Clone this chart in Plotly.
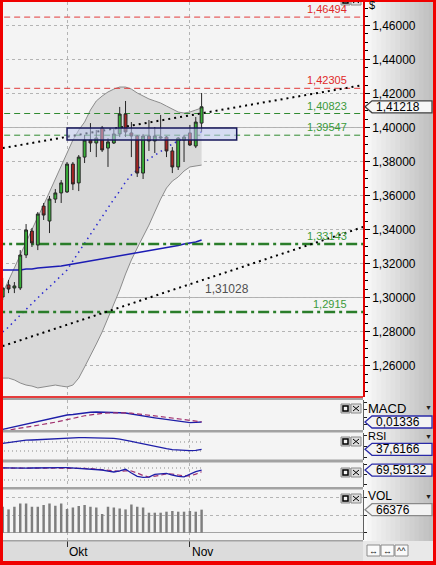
import plotly.graph_objects as go

W, H = 436, 565
FONT = "Liberation Sans, Arial, sans-serif"

# ---- data ----
dates = ["2010-09-16", "2010-09-17", "2010-09-20", "2010-09-21", "2010-09-22",
         "2010-09-23", "2010-09-24", "2010-09-27", "2010-09-28", "2010-09-29",
         "2010-09-30", "2010-10-01", "2010-10-04", "2010-10-05", "2010-10-06",
         "2010-10-07", "2010-10-08", "2010-10-11", "2010-10-12", "2010-10-13",
         "2010-10-14", "2010-10-15", "2010-10-18", "2010-10-19", "2010-10-20",
         "2010-10-21", "2010-10-22", "2010-10-25", "2010-10-26", "2010-10-27",
         "2010-10-28", "2010-10-29", "2010-11-01", "2010-11-02", "2010-11-03"]
month_ticks = {"2010-10-01": "Okt", "2010-11-01": "Nov"}

opens = [1.3003, 1.3074, 1.3056, 1.3056, 1.3250, 1.3391, 1.3309, 1.3538, 1.3450, 1.3579,
         1.3615, 1.3621, 1.3785, 1.3674, 1.3826, 1.3926, 1.3909, 1.3997, 1.3879, 1.3909,
         1.3962, 1.4079, 1.3968, 1.3950, 1.3732, 1.3950, 1.3921, 1.3938, 1.3944, 1.3862,
         1.3768, 1.3926, 1.3968, 1.3891, 1.4026]
highs = [1.3115, 1.3103, 1.3091, 1.3279, 1.3432, 1.3409, 1.3503, 1.3556, 1.3597, 1.3638,
         1.3691, 1.3797, 1.3797, 1.3838, 1.3956, 1.4026, 1.3985, 1.4009, 1.3938, 1.3991,
         1.4121, 1.4156, 1.4032, 1.3956, 1.3962, 1.4044, 1.4003, 1.4074, 1.3950, 1.3885,
         1.3944, 1.3956, 1.4015, 1.4062, 1.4203]
lows = [1.2985, 1.3026, 1.3026, 1.3044, 1.3232, 1.3297, 1.3279, 1.3456, 1.3379, 1.3556,
        1.3556, 1.3615, 1.3632, 1.3626, 1.3791, 1.3856, 1.3826, 1.3856, 1.3768, 1.3903,
        1.3944, 1.3944, 1.3826, 1.3709, 1.3697, 1.3862, 1.3850, 1.3932, 1.3826, 1.3732,
        1.3750, 1.3797, 1.3891, 1.3879, 1.3974]
closes = [1.3056, 1.3050, 1.3068, 1.3250, 1.3397, 1.3321, 1.3491, 1.3485, 1.3579, 1.3615,
          1.3674, 1.3785, 1.3668, 1.3826, 1.3926, 1.3909, 1.3938, 1.3868, 1.3915, 1.3962,
          1.4079, 1.3974, 1.3950, 1.3732, 1.3950, 1.3921, 1.3950, 1.3944, 1.3862, 1.3768,
          1.3938, 1.3944, 1.3897, 1.4032, 1.41218]

bb_upper = [1.3026, 1.3097, 1.3174, 1.3250, 1.3326, 1.3403, 1.3474, 1.3544, 1.3621, 1.3697,
            1.3774, 1.3850, 1.3926, 1.3985, 1.4032, 1.4103, 1.4156, 1.4185, 1.4209, 1.4226,
            1.4238, 1.4238, 1.4226, 1.4203, 1.4185, 1.4168, 1.4156, 1.4144, 1.4126, 1.4109,
            1.4091, 1.4085, 1.4091, 1.4103, 1.4115]
bb_lower = [1.2526, 1.2526, 1.2515, 1.2497, 1.2485, 1.2479, 1.2468, 1.2474, 1.2479, 1.2485,
            1.2479, 1.2474, 1.2485, 1.2526, 1.2591, 1.2656, 1.2726, 1.2797, 1.2879, 1.2962,
            1.3044, 1.3138, 1.3221, 1.3291, 1.3356, 1.3426, 1.3503, 1.3579, 1.3644, 1.3685,
            1.3709, 1.3744, 1.3768, 1.3774, 1.3779]
bb_mid = [1.2797, 1.2826, 1.2862, 1.2897, 1.2926, 1.2962, 1.2997, 1.3032, 1.3062, 1.3097,
          1.3126, 1.3162, 1.3215, 1.3268, 1.3315, 1.3368, 1.3421, 1.3474, 1.3526, 1.3579,
          1.3626, 1.3679, 1.3721, 1.3756, 1.3785, 1.3815, 1.3838, 1.3862, 1.3885, 1.3903,
          1.3921, 1.3938, 1.3950, 1.3962, 1.3974]
ma_long = [1.3162, 1.3162, 1.3162, 1.3162, 1.3168, 1.3168, 1.3174, 1.3176, 1.3179, 1.3182,
           1.3185, 1.3191, 1.3197, 1.3203, 1.3209, 1.3215, 1.3221, 1.3226, 1.3232, 1.3238,
           1.3244, 1.3250, 1.3256, 1.3262, 1.3268, 1.3274, 1.3279, 1.3285, 1.3291, 1.3297,
           1.3306, 1.3315, 1.3321, 1.3326, 1.3338]

levels = [1.46494, 1.42305, 1.40823, 1.39547, 1.33143, 1.2915]
solid_grid = [1.30, 1.40]
trend_hi_x, trend_hi_y = [-1, 62], [1.3873, 1.4252]
trend_lo_x, trend_lo_y = [-1, 62], [1.2703, 1.3419]
trend_lo_last = 1.31028
zone_bars = [11, 40]
zone_prices = [1.3926, 1.3997]

macd = [0.0036, 0.0054, 0.0071, 0.0089, 0.0106, 0.0124, 0.0141, 0.0158, 0.0175, 0.0193,
        0.0210, 0.0227, 0.0234, 0.0247, 0.0257, 0.0264, 0.0267, 0.0267, 0.0264, 0.0261,
        0.0257, 0.0254, 0.0240, 0.0222, 0.0209, 0.0200, 0.0190, 0.0178, 0.0166, 0.0152,
        0.0142, 0.0132, 0.0124, 0.0128, 0.01336]
macd_signal = [0.0012, 0.0024, 0.0036, 0.0048, 0.0060, 0.0071, 0.0086, 0.0101, 0.0116, 0.0131,
               0.0146, 0.0160, 0.0180, 0.0199, 0.0217, 0.0231, 0.0241, 0.0249, 0.0254, 0.0257,
               0.0258, 0.0255, 0.0251, 0.0244, 0.0236, 0.0226, 0.0216, 0.0206, 0.0195, 0.0184,
               0.0173, 0.0163, 0.0153, 0.0143, 0.0136]
rsi = [64.2, 67.9, 71.5, 75.2, 78.0, 78.9, 80.6, 82.3, 84.0, 85.7,
       87.4, 89.1, 89.1, 89.3, 89.3, 89.1, 89.1, 89.1, 88.5, 86.0,
       82.3, 78.9, 73.0, 67.0, 61.1, 55.8, 50.4, 45.1, 40.6, 36.5,
       34.4, 32.5, 31.3, 33.0, 37.6166]
rsi_levels = [70, 30]
stoch_k = [81, 80, 79, 78.5, 79, 80, 81, 81.5, 81.5, 82,
           82, 81.5, 80, 78, 76.5, 75, 72, 70, 64, 60,
           66, 73.5, 55, 38, 33.5, 34, 48, 52, 53.5, 45,
           38, 36, 50, 62, 69.59132]
stoch_d = [80, 80, 80, 79.5, 79, 79, 80, 80.5, 81, 81.5,
           81.5, 81.5, 81, 80, 78, 76.5, 74.5, 72, 68, 65,
           63, 66, 65, 55, 42, 35, 38, 44, 51, 50,
           45, 40, 41, 49, 61.58422]
stoch_levels = [80, 20]
volumes = [74900, 67100, 74900, 84400, 84400, 74900, 74900, 79800, 84400, 77800,
           84400, 68300, 72900, 76900, 79800, 74900, 72900, 53900, 74900, 72900,
           70000, 67100, 81500, 74900, 72900, 57600, 57600, 57600, 60500, 62500,
           60500, 60500, 62500, 60500, 66376]

# ---- styles / geometry ----
level_colors = ["#e23a3a", "#e23a3a", "#2f8a2f", "#2f8a2f", "#2a7d2a", "#2a7d2a"]
label_colors = ["#e02828", "#e02828", "#3a9a3a", "#3a9a3a", "#3a9a3a", "#3a9a3a"]
level_dash = ["6px,4px"] * 4 + ["11px,4px,3px,4px"] * 2
level_width = [1, 1, 1, 1, 2.5, 2.5]

X_RANGE = [-0.46, 61.59]
PANELS = {  # pixel top, pixel bottom, value range
    "price": (2, 397, [1.24147, 1.47382]),
    "macd": (400, 430, [0.00266, 0.04277]),
    "rsi": (432.5, 459.5, [-7.8, 112.2]),
    "stoch": (462.5, 487, [-15, 107.5]),
    "vol": (489.5, 540, [-21000, 124400]),
}
xi = list(range(len(dates)))
tick_idx = [dates.index(d) for d in month_ticks]


def X(p):
    return p / W


def Y(p):
    return 1 - p / H


def to_px(panel, v):
    top, bottom, rng = PANELS[panel]
    return bottom - (v - rng[0]) / (rng[1] - rng[0]) * (bottom - top)


def comma(v, fmt):
    return format(v, fmt).replace(".", ",")


fig = go.Figure()

# price panel (base layer)
fig.add_trace(go.Scatter(x=xi, y=bb_lower, mode="lines", line=dict(color="#8c8c8c", width=1)))
fig.add_trace(go.Scatter(x=xi, y=bb_upper, mode="lines", line=dict(color="#8c8c8c", width=1),
                         fill="tonexty", fillcolor="#d9d9d9"))
fig.add_trace(go.Scatter(x=xi, y=ma_long, mode="lines", line=dict(color="#1c1cb4", width=1.5)))
fig.add_trace(go.Scatter(x=xi, y=bb_mid, mode="lines",
                         line=dict(color="#2a2ad0", width=1.5, dash="1.5px,4px")))
for lv, c, d, w in zip(levels, level_colors, level_dash, level_width):
    fig.add_trace(go.Scatter(x=[X_RANGE[0] - 1, X_RANGE[1] + 1], y=[lv, lv], mode="lines",
                             line=dict(color=c, width=w, dash=d)))
fig.add_trace(go.Scatter(x=trend_hi_x, y=trend_hi_y, mode="lines",
                         line=dict(color="#000000", width=2, dash="2px,4px")))
fig.add_trace(go.Scatter(x=trend_lo_x, y=trend_lo_y, mode="lines",
                         line=dict(color="#000000", width=2, dash="2px,4px")))

# candles on an overlay axis so they sit above the band fill
fig.add_trace(go.Candlestick(
    x=xi, open=opens, high=highs, low=lows, close=closes, yaxis="y6", whiskerwidth=0,
    increasing=dict(fillcolor="#38b038", line=dict(color="#262626", width=1)),
    decreasing=dict(fillcolor="#a82424", line=dict(color="#262626", width=1)),
))

# MACD
fig.add_trace(go.Scatter(x=xi, y=macd, xaxis="x2", yaxis="y2", mode="lines",
                         line=dict(color="#1e1ea8", width=1.3)))
fig.add_trace(go.Scatter(x=xi, y=macd_signal, xaxis="x2", yaxis="y2", mode="lines",
                         line=dict(color="#a0306e", width=1.2, dash="5px,3px")))
# RSI
for lv in rsi_levels:
    fig.add_trace(go.Scatter(x=[X_RANGE[0], xi[-1]], y=[lv, lv], xaxis="x3", yaxis="y3",
                             mode="lines", line=dict(color="#8a8a8a", width=1, dash="1px,3px")))
fig.add_trace(go.Scatter(x=xi, y=rsi, xaxis="x3", yaxis="y3", mode="lines",
                         line=dict(color="#1e1ea8", width=1.3)))
# Stochastic
for lv in stoch_levels:
    fig.add_trace(go.Scatter(x=[X_RANGE[0], xi[-1]], y=[lv, lv], xaxis="x4", yaxis="y4",
                             mode="lines", line=dict(color="#8a8a8a", width=1, dash="1px,3px")))
fig.add_trace(go.Scatter(x=xi, y=stoch_d, xaxis="x4", yaxis="y4", mode="lines",
                         line=dict(color="#a0306e", width=1.2, dash="5px,3px")))
fig.add_trace(go.Scatter(x=xi, y=stoch_k, xaxis="x4", yaxis="y4", mode="lines",
                         line=dict(color="#1e1ea8", width=1.3)))
# Volume
fig.add_trace(go.Bar(x=xi, y=volumes, xaxis="x5", yaxis="y5", width=0.42,
                     marker=dict(color="#7e7e7e", line=dict(width=0))))

# ---- axes ----
xcommon = dict(range=X_RANGE, domain=[0, X(363)], showgrid=True, gridcolor="#b4b4b4",
               griddash="dot", tickvals=tick_idx, showticklabels=False, zeroline=False,
               showline=False, fixedrange=True, automargin=False)
ycommon = dict(side="right", showticklabels=False, zeroline=False, showline=True,
               linecolor="#606060", linewidth=1, ticks="outside", ticklen=3,
               tickcolor="#202020", fixedrange=True, automargin=False)


def dom(name):
    top, bottom, _ = PANELS[name]
    return [Y(bottom), Y(top)]


layout_axes = dict(
    xaxis=dict(xcommon, anchor="y", rangeslider=dict(visible=False)),
    xaxis2=dict(xcommon, anchor="y2"),
    xaxis3=dict(xcommon, anchor="y3"),
    xaxis4=dict(xcommon, anchor="y4"),
    xaxis5=dict(xcommon, anchor="y5", ticks="outside", ticklen=6, tickcolor="#303030"),
    yaxis=dict(
        domain=dom("price"), range=PANELS["price"][2], side="right", anchor="x",
        tick0=1.26, dtick=0.02, tickformat=".5f", ticks="outside", ticklen=5,
        tickcolor="#000000", tickfont=dict(size=12, color="#000000", family=FONT),
        showgrid=True, gridcolor="#b4b4b4", griddash="dot", zeroline=False,
        showline=True, linecolor="#e00000", linewidth=1.5, fixedrange=True, automargin=False,
        minor=dict(dtick=0.005, tick0=1.26, ticks="outside", ticklen=3, tickcolor="#000000"),
    ),
    yaxis6=dict(overlaying="y", anchor="x", range=PANELS["price"][2], visible=False,
                fixedrange=True),
    yaxis2=dict(ycommon, domain=dom("macd"), range=PANELS["macd"][2], anchor="x2",
                showgrid=False, tickvals=[0.01, 0.02, 0.03, 0.04]),
    yaxis3=dict(ycommon, domain=dom("rsi"), range=PANELS["rsi"][2], anchor="x3",
                showgrid=False, tickvals=[0, 50, 100]),
    yaxis4=dict(ycommon, domain=dom("stoch"), range=PANELS["stoch"][2], anchor="x4",
                showgrid=False, tickvals=[0, 50, 100]),
    yaxis5=dict(ycommon, domain=dom("vol"), range=PANELS["vol"][2], anchor="x5",
                showgrid=True, gridcolor="#b4b4b4", griddash="dot",
                tickvals=[0, 50000, 100000], zeroline=True, zerolinecolor="#a4a4a4",
                zerolinewidth=1),
)

# ---- decoration ----
shapes = []


def rect(x0, y0, x1, y1, fill, line=None, lw=1, layer="above"):
    shapes.append(dict(type="rect", xref="paper", yref="paper", x0=X(x0), x1=X(x1),
                       y0=Y(y1), y1=Y(y0), fillcolor=fill, layer=layer,
                       line=dict(color=line or fill, width=lw if line else 0)))


def seg(x0, y0, x1, y1, color, lw=1):
    shapes.append(dict(type="line", xref="paper", yref="paper", x0=X(x0), x1=X(x1),
                       y0=Y(y0), y1=Y(y1), line=dict(color=color, width=lw), layer="above"))


# right-hand axis strip with a grey gradient
rect(363, 0, 367, 541, "#fbfbfb", layer="below")
n = 14
for k in range(n):
    x0 = 367 + k * (433 - 367) / n
    g = int(246 - (246 - 192) * k / (n - 1))
    rect(x0, 0, x0 + (433 - 367) / n + 0.6, 541, f"rgb({g},{g},{g})", layer="below")
rect(0, 541, 363, 561, "#dcdcdc", layer="below")
rect(363, 541, 433, 561, "#e9e9e9", layer="below")

# panel separators
for a, b in [(398, 400), (430, 432.5), (459.5, 462.5), (487, 489.5), (540, 541.5)]:
    rect(0, a, 363, b, "#a2a2a2")
seg(0, 397, 363, 397, "#e00000", 1.5)

# zone box over the candles
shapes.append(dict(type="rect", xref="x", yref="y", x0=zone_bars[0], x1=zone_bars[1],
                   y0=zone_prices[0], y1=zone_prices[1], fillcolor="rgba(190,200,240,0.55)",
                   line=dict(color="#16165a", width=1.5), layer="above"))
for lv in solid_grid:
    shapes.append(dict(type="line", xref="x", yref="y", x0=X_RANGE[0] - 1, x1=X_RANGE[1] + 1,
                       y0=lv, y1=lv, line=dict(color="#b0b0b0", width=1), layer="below"))


def icons(yt):
    rect(341, yt, 350, yt + 9, "#cfcfcf", "#8a8a8a")
    rect(343, yt + 2, 348, yt + 7, "#f2f2f2", "#000000", 1.5)
    rect(351, yt, 361, yt + 9, "#dedede", "#8a8a8a")
    seg(353, yt + 2, 359, yt + 7, "#000000")
    seg(353, yt + 7, 359, yt + 2, "#000000")


for yt in [-4, 404, 437, 468, 494]:
    icons(yt)

annotations = []


def text(xp, yp, s, size=12, color="#000000", anchor="left"):
    annotations.append(dict(xref="paper", yref="paper", x=X(xp), y=Y(yp), text=s,
                            showarrow=False, xanchor=anchor, yanchor="middle", borderpad=0,
                            font=dict(size=size, color=color, family=FONT)))


def value_box(panel, v, s, edge, fill="#f3f3f3"):
    ym = to_px(panel, v)
    y0, y1 = ym - 6, ym + 6
    path = (f"M {X(365)},{Y(ym)} L {X(372)},{Y(y0)} L {X(432)},{Y(y0)} "
            f"L {X(432)},{Y(y1)} L {X(372)},{Y(y1)} Z")
    shapes.append(dict(type="path", xref="paper", yref="paper", path=path, fillcolor=fill,
                       line=dict(color=edge, width=1.3), layer="above"))
    text(375, ym, s, 12)


value_box("price", closes[-1], comma(closes[-1], ".5f"), "#404040", "#f6f6f6")
value_box("macd", macd[-1], comma(macd[-1], ".5f"), "#2a2aa8")
value_box("rsi", rsi[-1], comma(rsi[-1], ".4f"), "#2a2aa8")
value_box("stoch", stoch_k[-1], comma(stoch_k[-1], ".5f"), "#2a2aa8")
value_box("vol", volumes[-1], f"{volumes[-1]}", "#8a8a8a")

text(368, 5, "$", 11)
text(367, 408, "MACD", 13)
text(367, 436, "RSI", 11)
text(367, 496, "VOL", 12)
for yp in [407, 436, 496]:
    text(428, yp, "▼", 7, "#202020", "center")

# level labels
for lv, c in zip(levels, label_colors):
    annotations.append(dict(xref="paper", x=X(349), yref="y", y=lv, text=comma(lv, "g"),
                            xanchor="right", yanchor="bottom", showarrow=False,
                            font=dict(size=11, color=c, family=FONT)))
annotations.append(dict(xref="x", x=xi[-1], yref="y", y=trend_lo_last,
                        text=comma(trend_lo_last, ".5f"), xanchor="left", yanchor="top",
                        showarrow=False, xshift=1, font=dict(size=12, color="#505050", family=FONT)))

# month labels on the time bar
for d, lab in month_ticks.items():
    annotations.append(dict(xref="x5", x=dates.index(d), yref="paper", y=Y(552), text=lab,
                            xanchor="left", yanchor="middle", showarrow=False, xshift=0,
                            font=dict(size=12, color="#000000", family=FONT)))

# small buttons bottom right
for x0, s in [(367, "↔"), (381, "↔"), (395, "^^")]:
    rect(x0, 545, x0 + 13, 556, "#fafafa", "#8a8a8a")
    text(x0 + 6.5, 550.5, s, 9, "#202020", "center")

# red frame
rect(0, 0, 3, 565, "#f00000")
rect(433, 0, 436, 565, "#f00000")
rect(0, 0, 436, 2, "#f00000")
rect(0, 561, 436, 565, "#f00000")

fig.update_layout(
    **layout_axes,
    width=W, height=H, margin=dict(l=0, r=0, t=0, b=0, pad=0),
    template="none", showlegend=False, hovermode=False,
    paper_bgcolor="#f4f4f4", plot_bgcolor="#f4f4f4",
    separators=",.", font=dict(family=FONT, size=12, color="#000000"),
    shapes=shapes, annotations=annotations,
)

fig.write_html("out.html", config={"displayModeBar": False},
               post_script="document.body.style.margin='0';document.body.style.overflow='hidden';")
